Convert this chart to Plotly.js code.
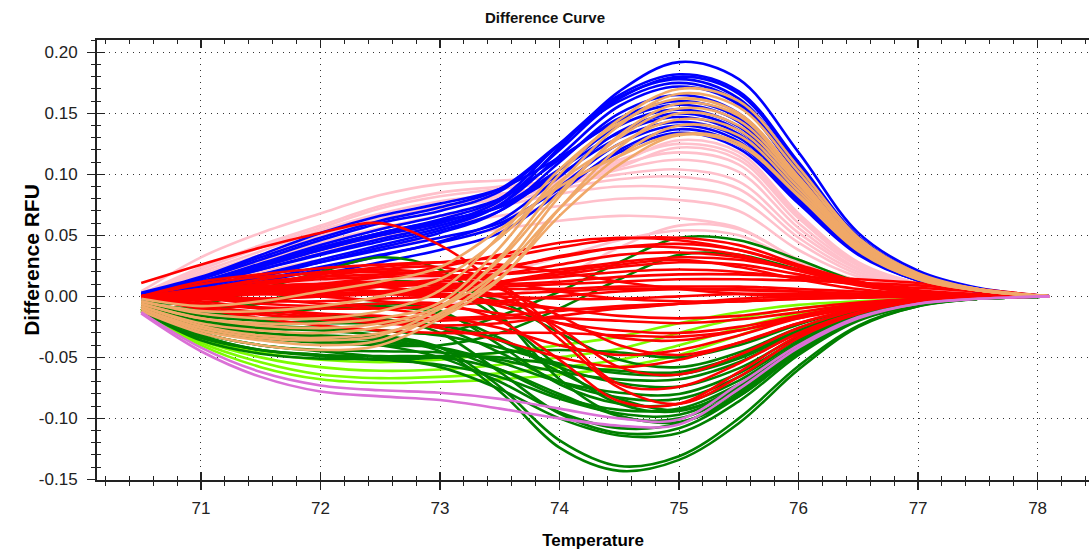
<!DOCTYPE html>
<html>
<head>
<meta charset="utf-8">
<script src="https://cdn.plot.ly/plotly-3.0.1.min.js"></script>
<style>html,body{margin:0;padding:0;background:#fff;}#chart{width:1090px;height:550px;}</style>
</head>
<body>
<div id="chart"></div>
<script>
// Temperatures at which the curves were read
const temperature = [70.5,71,71.5,72,72.5,73,73.5,74,74.5,75,75.5,76,76.5,77,77.5,78.1];

const xTickValues = [71,72,73,74,75,76,77,78];
const xTickLabels = ['71','72','73','74','75','76','77','78'];
const yTickValues = [-0.15,-0.10,-0.05,0.00,0.05,0.10,0.15,0.20];
const yTickLabels = ['-0.15','-0.10','-0.05','0.00','0.05','0.10','0.15','0.20'];

const blueCurves = [
 [0,.010,.022,.034,.045,.056,.075,.122,.168,.192,.178,.118,.052,.021,.007,0],
 [0,.012,.026,.040,.052,.063,.080,.125,.165,.182,.168,.110,.049,.019,.006,0],
 [-.002,.010,.024,.038,.050,.060,.078,.120,.162,.180,.166,.108,.048,.018,.006,0],
 [0,.014,.030,.046,.060,.070,.086,.124,.163,.178,.162,.105,.047,.018,.006,0],
 [.002,.015,.032,.048,.062,.073,.088,.125,.160,.175,.159,.102,.046,.017,.006,0],
 [0,.010,.022,.035,.047,.058,.075,.115,.156,.172,.157,.100,.045,.017,.005,0],
 [-.002,.006,.016,.028,.040,.052,.070,.110,.150,.165,.150,.096,.043,.016,.005,0],
 [0,.012,.027,.042,.055,.066,.080,.112,.146,.160,.146,.093,.042,.016,.005,0],
 [.003,.016,.034,.052,.066,.076,.088,.114,.144,.157,.143,.091,.041,.015,.005,0],
 [0,.008,.018,.030,.042,.054,.070,.104,.140,.153,.139,.088,.040,.015,.005,0],
 [-.003,.004,.012,.022,.033,.045,.062,.098,.135,.150,.136,.086,.039,.014,.005,0],
 [0,.010,.024,.038,.050,.061,.074,.104,.134,.147,.133,.084,.038,.014,.005,0],
 [.002,.012,.026,.040,.052,.062,.073,.100,.130,.143,.130,.082,.037,.014,.004,0],
 [0,.006,.014,.024,.034,.044,.058,.090,.125,.140,.127,.080,.036,.013,.004,0],
 [-.002,.004,.010,.018,.028,.038,.052,.085,.120,.137,.124,.078,.035,.013,.004,0],
 [0,.008,.018,.028,.038,.048,.060,.088,.118,.134,.121,.076,.034,.013,.004,0]
];

const sandyCurves = [
 [-.006,-.018,-.022,-.022,-.018,-.005,.040,.100,.145,.170,.160,.106,.048,.019,.006,0],
 [-.008,-.022,-.028,-.030,-.025,-.010,.032,.092,.140,.166,.155,.102,.046,.018,.006,0],
 [-.004,-.014,-.018,-.018,-.012,.005,.050,.104,.142,.162,.150,.098,.044,.017,.006,0],
 [-.010,-.026,-.034,-.036,-.032,-.010,.022,.082,.132,.158,.148,.096,.043,.017,.005,0],
 [-.006,-.018,-.024,-.026,-.022,-.008,.030,.085,.130,.154,.144,.094,.042,.016,.005,0],
 [-.012,-.030,-.040,-.044,-.040,-.018,.014,.072,.122,.150,.140,.092,.041,.016,.005,0],
 [-.004,-.012,-.012,-.008,.000,.014,.048,.094,.125,.145,.136,.089,.040,.015,.005,0],
 [-.008,-.024,-.032,-.034,-.030,-.016,.020,.072,.115,.140,.132,.086,.039,.015,.005,0],
 [-.002,-.008,-.004,.004,.012,.024,.055,.090,.115,.133,.126,.083,.038,.014,.005,0],
 [-.010,-.028,-.036,-.040,-.036,-.014,.015,.066,.108,.132,.124,.082,.037,.014,.005,0]
];

const pinkCurves = [
 [.004,.032,.052,.068,.083,.092,.095,.098,.110,.128,.118,.068,.028,.011,.004,0],
 [.002,.024,.042,.058,.074,.085,.090,.096,.112,.125,.115,.066,.027,.010,.004,0],
 [.002,.020,.037,.054,.068,.078,.084,.092,.108,.118,.108,.060,.025,.010,.003,0],
 [0,.016,.032,.048,.062,.072,.080,.090,.104,.112,.102,.056,.023,.009,.003,0],
 [.003,.018,.034,.050,.064,.074,.082,.092,.100,.104,.094,.052,.022,.009,.003,0],
 [0,.014,.028,.042,.055,.066,.076,.088,.096,.098,.088,.048,.020,.008,.003,0],
 [.002,.016,.030,.044,.056,.066,.074,.084,.090,.089,.080,.044,.018,.008,.003,0],
 [0,.012,.024,.036,.048,.058,.066,.074,.080,.079,.070,.038,.016,.007,.003,0],
 [0,.010,.020,.030,.040,.048,.055,.062,.066,.064,.056,.030,.013,.006,.002,0],
 [0,.002,.002,0,-.004,-.006,-.002,.015,.040,.058,.055,.030,.013,.006,.002,0],
 [0,.004,.008,.012,.014,.016,.020,.032,.046,.054,.050,.028,.012,.005,.002,0],
 [.002,.022,.040,.056,.072,.082,.088,.094,.106,.122,.112,.064,.026,.010,.004,0]
];

const redCurves = [
 [.011,.026,.040,.052,.060,.042,.008,-.035,-.075,-.088,-.066,-.034,-.014,-.004,-.001,0],
 [0,.004,.010,.018,.024,.028,.032,.040,.047,.048,.042,.026,.012,.004,.001,0],
 [0,.002,.006,.010,.016,.024,.034,.044,.048,.046,.038,.024,.010,.003,.001,0],
 [0,.006,.012,.016,.018,.020,.024,.032,.040,.043,.038,.025,.012,.004,.001,0],
 [0,.003,.006,.008,.010,.014,.022,.033,.040,.040,.034,.021,.010,.003,.001,0],
 [0,0,.002,.004,.008,.012,.018,.026,.034,.036,.032,.021,.011,.004,.001,0],
 [0,.005,.010,.014,.016,.017,.018,.022,.028,.032,.030,.022,.012,.005,.002,0],
 [0,.002,.004,.006,.008,.010,.012,.018,.024,.028,.026,.018,.009,.003,.001,0],
 [0,-.002,-.002,0,.004,.008,.012,.016,.020,.022,.020,.015,.010,.007,.004,0],
 [0,.004,.008,.010,.010,.010,.010,.012,.016,.018,.018,.016,.014,.011,.006,0],
 [0,0,.002,.002,.004,.006,.008,.010,.012,.014,.014,.013,.011,.009,.005,0],
 [0,.002,.002,.002,.002,.004,.006,.006,.008,.008,.008,.006,.004,.002,.001,0],
 [0,-.002,-.004,-.004,-.002,0,.002,.004,.006,.006,.005,.004,.002,.001,0,0],
 [0,.004,.006,.006,.004,.002,0,-.002,-.002,0,.002,.002,.002,.001,0,0],
 [0,-.006,-.009,-.010,-.010,-.008,-.004,0,.004,.006,.006,.004,.002,.001,0,0],
 [0,.010,.016,.019,.020,.018,.012,.004,-.002,-.004,-.004,-.002,0,0,0,0],
 [0,-.006,-.010,-.014,-.016,-.018,-.016,-.012,-.008,-.006,-.004,-.002,-.001,0,0,0],
 [0,.002,.004,.004,.002,0,-.004,-.010,-.016,-.018,-.016,-.010,-.005,-.002,-.001,0],
 [0,-.008,-.013,-.017,-.020,-.020,-.018,-.018,-.020,-.022,-.019,-.013,-.006,-.002,-.001,0],
 [0,.002,.002,0,-.004,-.008,-.014,-.022,-.028,-.030,-.025,-.016,-.008,-.003,-.001,0],
 [0,-.010,-.018,-.024,-.028,-.030,-.030,-.030,-.032,-.033,-.028,-.018,-.009,-.003,-.001,0],
 [0,.004,.008,.010,.008,.002,-.008,-.022,-.034,-.036,-.028,-.016,-.007,-.002,-.001,0],
 [0,0,-.002,-.006,-.010,-.016,-.026,-.040,-.048,-.044,-.032,-.018,-.008,-.003,-.001,0],
 [0,.006,.014,.020,.022,.018,.006,-.016,-.040,-.048,-.038,-.022,-.010,-.003,-.001,0],
 [0,-.004,-.010,-.016,-.020,-.026,-.036,-.050,-.058,-.052,-.038,-.022,-.010,-.003,-.001,0],
 [0,.002,.006,.010,.012,.010,0,-.026,-.058,-.064,-.048,-.026,-.011,-.004,-.001,0],
 [0,.004,.010,.016,.022,.024,.010,-.030,-.072,-.074,-.055,-.030,-.013,-.004,-.001,0],
 [0,-.002,-.006,-.008,-.006,-.006,-.020,-.052,-.086,-.088,-.062,-.032,-.014,-.004,-.001,0],
 [0,.002,.004,.006,.004,0,-.006,-.010,-.010,-.006,-.002,0,.001,0,0,0],
 [0,-.010,-.015,-.019,-.022,-.024,-.022,-.016,-.010,-.006,-.004,-.002,-.001,0,0,0],
 [0,.012,.018,.023,.026,.028,.026,.020,.012,.006,.002,0,0,0,0,0],
 [0,-.002,-.002,0,.002,.006,.012,.020,.026,.030,.024,.014,.006,.002,.001,0]
];

const greenCurves = [
 [-.008,-.022,-.030,-.033,-.036,-.045,-.078,-.124,-.143,-.134,-.104,-.060,-.025,-.008,-.002,0],
 [-.008,-.020,-.026,-.028,-.032,-.042,-.074,-.118,-.139,-.131,-.100,-.057,-.024,-.008,-.002,0],
 [-.010,-.030,-.040,-.045,-.050,-.058,-.076,-.100,-.114,-.112,-.086,-.048,-.020,-.007,-.002,0],
 [-.006,-.016,-.018,-.016,-.018,-.030,-.062,-.096,-.112,-.108,-.082,-.046,-.019,-.006,-.002,0],
 [-.008,-.024,-.032,-.036,-.040,-.050,-.070,-.095,-.108,-.104,-.080,-.045,-.019,-.006,-.002,0],
 [-.004,-.006,.006,.020,.032,.022,-.015,-.068,-.098,-.100,-.078,-.044,-.018,-.006,-.002,0],
 [-.006,-.010,-.006,.004,.012,.008,-.018,-.058,-.088,-.094,-.074,-.042,-.018,-.006,-.002,0],
 [-.010,-.032,-.044,-.048,-.052,-.056,-.066,-.084,-.096,-.097,-.076,-.043,-.018,-.006,-.002,0],
 [-.008,-.024,-.030,-.032,-.034,-.042,-.060,-.082,-.093,-.092,-.072,-.041,-.017,-.006,-.002,0],
 [-.006,-.014,-.014,-.010,-.006,-.012,-.040,-.072,-.088,-.088,-.069,-.039,-.016,-.005,-.002,0],
 [-.008,-.020,-.022,-.020,-.020,-.026,-.046,-.070,-.083,-.084,-.066,-.037,-.015,-.005,-.002,0],
 [-.010,-.028,-.034,-.036,-.038,-.042,-.054,-.070,-.079,-.080,-.063,-.035,-.015,-.005,-.002,0],
 [-.006,-.014,-.014,-.010,-.008,-.014,-.034,-.058,-.071,-.074,-.059,-.033,-.014,-.005,-.001,0],
 [-.010,-.030,-.040,-.044,-.045,-.046,-.052,-.062,-.068,-.068,-.054,-.030,-.013,-.004,-.001,0],
 [-.008,-.022,-.026,-.026,-.028,-.032,-.042,-.055,-.063,-.064,-.051,-.029,-.012,-.004,-.001,0],
 [-.012,-.036,-.047,-.051,-.051,-.049,-.050,-.056,-.061,-.062,-.049,-.028,-.012,-.004,-.001,0],
 [-.010,-.032,-.044,-.049,-.052,-.050,-.046,-.044,-.046,-.050,-.040,-.023,-.010,-.003,-.001,0],
 [-.006,-.010,-.004,.006,.012,.010,-.004,-.030,-.052,-.058,-.046,-.026,-.011,-.004,-.001,0],
 [-.008,-.020,-.024,-.026,-.028,-.030,-.016,.004,.028,.048,.046,.030,.012,.004,.001,0],
 [-.010,-.026,-.034,-.038,-.040,-.040,-.030,-.010,.014,.034,.034,.022,.010,.003,.001,0],
 [-.012,-.034,-.044,-.048,-.049,-.050,-.060,-.080,-.098,-.103,-.082,-.046,-.019,-.006,-.002,0],
 [-.006,-.016,-.020,-.022,-.022,-.024,-.036,-.062,-.084,-.093,-.076,-.043,-.018,-.006,-.002,0]
];

const limeCurves = [
 [-.010,-.034,-.046,-.052,-.054,-.052,-.046,-.040,-.033,-.022,-.013,-.007,-.004,-.002,-.001,0],
 [-.011,-.036,-.050,-.058,-.061,-.060,-.056,-.050,-.043,-.030,-.018,-.010,-.005,-.002,-.001,0],
 [-.011,-.038,-.054,-.064,-.067,-.066,-.063,-.058,-.052,-.040,-.026,-.014,-.006,-.002,-.001,0],
 [-.012,-.040,-.058,-.068,-.071,-.070,-.068,-.064,-.058,-.048,-.032,-.017,-.008,-.003,-.001,0]
];

const orchidCurves = [
 [-.013,-.042,-.062,-.073,-.077,-.079,-.084,-.092,-.100,-.101,-.072,-.040,-.017,-.006,-.002,0],
 [-.014,-.045,-.066,-.078,-.082,-.085,-.092,-.100,-.106,-.105,-.076,-.042,-.018,-.006,-.002,0]
];

// drawing order and styles
const groups = [
  {curves: pinkCurves,   color: '#FFC0CB'},
  {curves: blueCurves,   color: '#0000FF'},
  {curves: limeCurves,   color: '#7CFC00'},
  {curves: greenCurves,  color: '#008000'},
  {curves: redCurves,    color: '#FF0000'},
  {curves: sandyCurves,  color: '#F0A868'},
  {curves: orchidCurves, color: '#DA70D6'}
];

const traces = [];
groups.forEach(g => {
  g.curves.forEach(vals => {
    traces.push({
      type: 'scatter', mode: 'lines',
      x: temperature, y: vals,
      line: {color: g.color, width: 2.6, shape: 'spline', smoothing: 1},
      hoverinfo: 'skip', showlegend: false
    });
  });
});
// empty trace to activate the overlay axes that carry the inner ticks
traces.push({type:'scatter', mode:'lines', x: [], y: [], xaxis: 'x2', yaxis: 'y2', showlegend: false, hoverinfo: 'skip'});

const xr = [70.13, 78.43];
const yr = [-0.1505, 0.2101];
const axisColor = '#222';
const fontFam = '"Liberation Sans", Arial, sans-serif';

const layout = {
  width: 1090, height: 550,
  margin: {l: 97, r: 1, t: 40, b: 70},
  paper_bgcolor: '#fff', plot_bgcolor: '#fff',
  font: {family: fontFam, color: '#222'},
  title: {text: 'Difference Curve', x: 0.5, xref: 'container', xanchor: 'center',
          y: 1 - 18/550, yref: 'container', yanchor: 'middle',
          font: {size: 15, family: fontFam, color: '#111', weight: 600}},
  showlegend: false,
  xaxis: {
    range: xr, tickvals: xTickValues, ticktext: xTickLabels,
    ticks: 'outside', ticklen: 8, tickwidth: 1.5, tickcolor: axisColor,
    showline: true, linecolor: axisColor, linewidth: 2,
    showgrid: true, gridcolor: '#333', gridwidth: 1, griddash: '1px,5px',
    zeroline: false, tickfont: {size: 17, family: fontFam, color: '#222'},
    ticklabelstandoff: 4,
    minor: {dtick: 0.2, tick0: 71, ticks: 'outside', ticklen: 4, tickcolor: axisColor, tickwidth: 1, showgrid: false},
    title: {text: 'Temperature', font: {size: 17, family: fontFam, color: '#000', weight: 700}, standoff: 22},
    automargin: false, fixedrange: true
  },
  xaxis2: {
    overlaying: 'x', range: xr, tickvals: xTickValues, showticklabels: false,
    ticks: 'inside', ticklen: 8, tickwidth: 1.5, tickcolor: axisColor,
    showline: true, linecolor: axisColor, linewidth: 2, mirror: 'ticks',
    showgrid: false, zeroline: false,
    minor: {dtick: 0.2, tick0: 71, ticks: 'inside', ticklen: 4, tickcolor: axisColor, tickwidth: 1, showgrid: false},
    fixedrange: true
  },
  yaxis: {
    range: yr, tickvals: yTickValues, ticktext: yTickLabels,
    ticks: 'outside', ticklen: 8, tickwidth: 1.5, tickcolor: axisColor,
    showline: true, linecolor: axisColor, linewidth: 2,
    showgrid: true, gridcolor: '#333', gridwidth: 1, griddash: '1px,5px',
    zeroline: false, tickfont: {size: 17, family: fontFam, color: '#222'},
    ticklabelstandoff: 6,
    minor: {dtick: 0.01, tick0: 0, ticks: 'outside', ticklen: 4, tickcolor: axisColor, tickwidth: 1, showgrid: false},
    title: {text: 'Difference RFU', font: {size: 21, family: fontFam, color: '#000', weight: 700}},
    automargin: false, fixedrange: true
  },
  yaxis2: {
    overlaying: 'y', range: yr, tickvals: yTickValues, showticklabels: false,
    ticks: 'inside', ticklen: 8, tickwidth: 1.5, tickcolor: axisColor,
    showline: false, showgrid: false, zeroline: false, side: 'left',
    minor: {dtick: 0.01, tick0: 0, ticks: 'inside', ticklen: 4, tickcolor: axisColor, tickwidth: 1, showgrid: false},
    fixedrange: true
  }
};

Plotly.newPlot('chart', traces, layout, {displayModeBar: false, staticPlot: true});
</script>
</body>
</html>
